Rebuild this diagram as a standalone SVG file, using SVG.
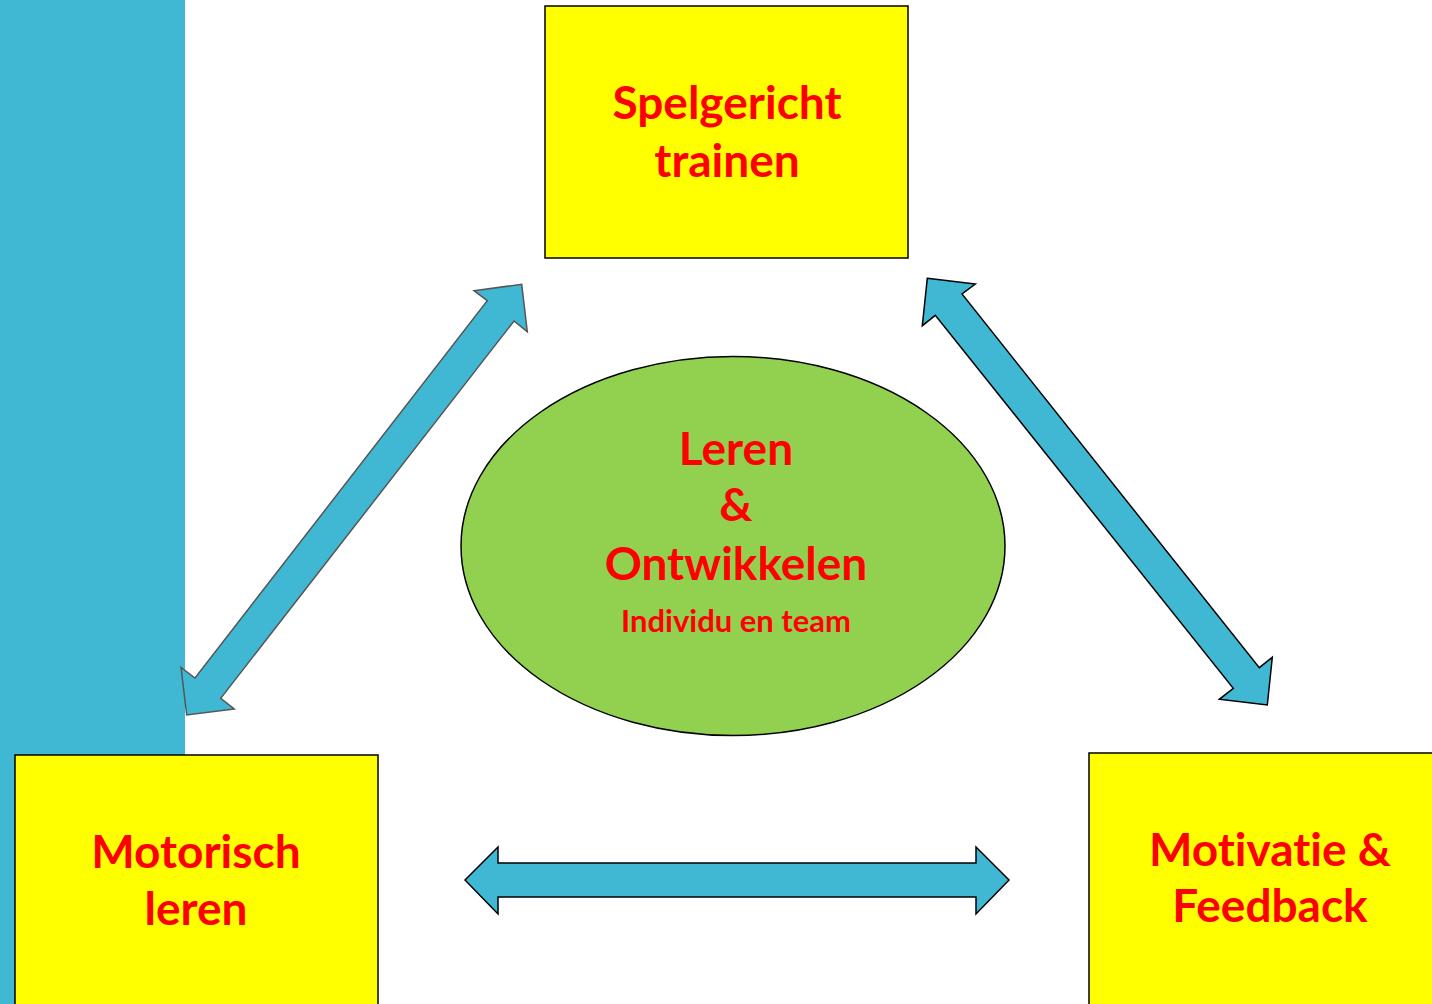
<svg xmlns="http://www.w3.org/2000/svg" width="1432" height="1004" viewBox="0 0 1432 1004">
<style>
.box{fill:#FFFF00;stroke:#000;stroke-width:1.5}
.t{font-family:Lato,"Open Sans",sans-serif;font-weight:bold;fill:#FF0000;text-anchor:middle;font-variant-ligatures:none;font-feature-settings:"liga" 0}
.big{font-size:46px}
.small{font-size:31px}
.arr{fill:#41B8D3;stroke-width:1.5;stroke-linejoin:miter}
</style>
<rect x="0" y="0" width="1432" height="1004" fill="#fff"/>
<rect x="0" y="0" width="185" height="1004" fill="#41B8D3"/>
<g id="connectors">
<polygon class="arr" stroke="#555" points="521.7,284.3 527.3,331.7 514,321 220.7,698.3 234.3,709 186.7,715 181,667.3 195,678 487.3,300.7 474,290.7"/>
<polygon class="arr" stroke="#000" points="927.3,278.3 975.3,284 962,294 1259.3,667.7 1272.3,657.3 1267.3,705 1219.3,699.3 1233.3,688.3 935.3,315.3 922.3,325.7"/>
<polygon class="arr" stroke="#000" points="465,880 498,847 498,863 976,863 976,847 1009,880 976,914 976,897 498,897 498,914"/>
</g>
<g id="spelgericht">
<rect class="box" x="545" y="6" width="363" height="252"/>
<text class="t big" x="727" y="119">Spelgericht</text>
<text class="t big" x="727" y="177">trainen</text>
</g>
<g id="leren">
<ellipse cx="733" cy="546" rx="272" ry="189.5" fill="#92D050" stroke="#000" stroke-width="1.5"/>
<text class="t big" x="736" y="465">Leren</text>
<text class="t big" x="736" y="521">&amp;</text>
<text class="t big" x="736" y="580">Ontwikkelen</text>
<text class="t small" x="736" y="632">Individu en team</text>
</g>
<g id="motorisch">
<rect class="box" x="15" y="755" width="363" height="260"/>
<text class="t big" x="196" y="868">Motorisch</text>
<text class="t big" x="196" y="925">leren</text>
</g>
<g id="motivatie">
<rect class="box" x="1089" y="753" width="363" height="260"/>
<text class="t big" x="1270" y="866">Motivatie &amp;</text>
<text class="t big" x="1270" y="922">Feedback</text>
</g>
</svg>
